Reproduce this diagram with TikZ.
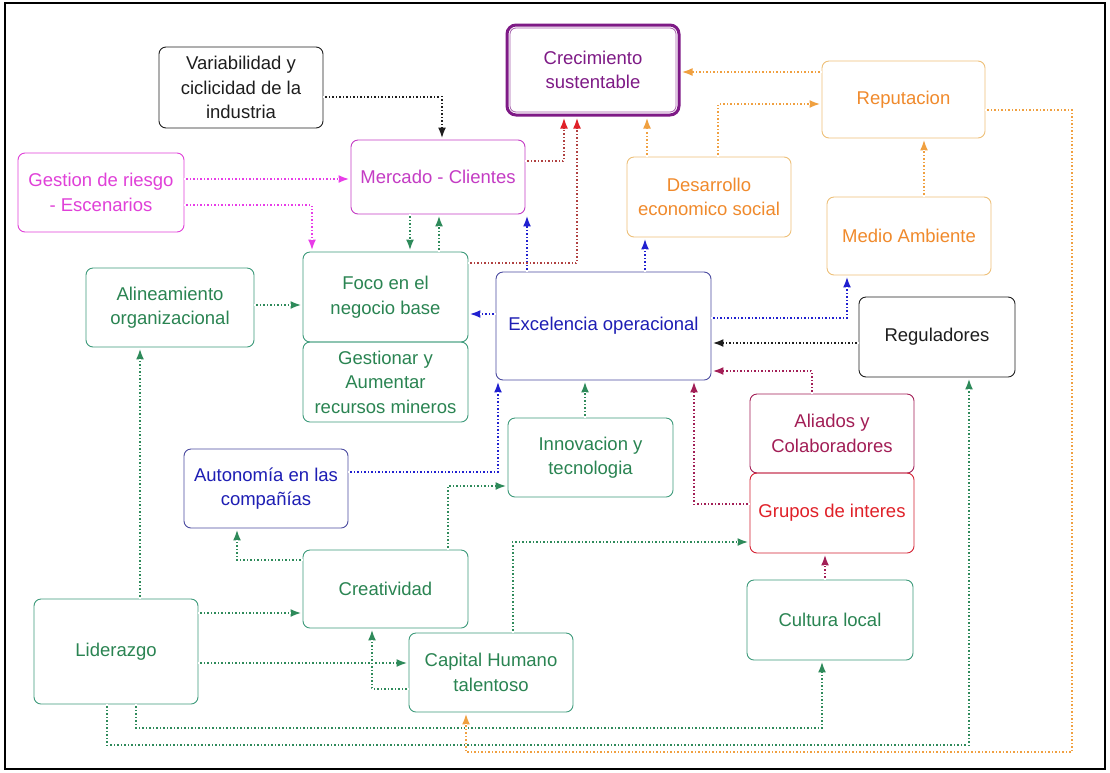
\documentclass[tikz,border=0pt]{standalone}
\usepackage{fontspec}
\setmainfont{Liberation Sans}
\usetikzlibrary{arrows.meta}

\definecolor{cgreen}{HTML}{2A8452}
\definecolor{cgreenbd}{HTML}{3C9A7A}
\definecolor{cblue}{HTML}{1E1EB4}
\definecolor{cbluebd}{HTML}{4A4AA0}
\definecolor{cmag}{HTML}{E040D8}
\definecolor{cmerc}{HTML}{C43CC4}
\definecolor{cpurple}{HTML}{7E1A86}
\definecolor{corange}{HTML}{F08A2C}
\definecolor{corangebd}{HTML}{EEC078}
\definecolor{cmaroon}{HTML}{A21E56}
\definecolor{cred}{HTML}{E02028}
\definecolor{credline}{HTML}{B04040}
\definecolor{cblack}{HTML}{1E1E1E}
\definecolor{cgreenln}{HTML}{2E8A5A}
\definecolor{cblueln}{HTML}{2020D0}
\definecolor{cmagln}{HTML}{E83CE8}
\definecolor{corangeln}{HTML}{F0A040}

\tikzset{
  box/.style={draw=#1, line width=0.9pt, rounded corners=7pt, inner sep=0pt,
    align=center, font=\fontsize{18.5}{24.5}\selectfont},
  conn/.style={draw=#1, line width=2.8pt, shorten >=1pt,
    -{Latex[length=11pt,width=8pt]},
    postaction={draw=white, line width=1.1pt, dash pattern=on 2pt off 1.5pt, -, shorten >=12pt}},
  redconn/.style={draw=credline, line width=2.8pt, shorten >=1pt,
    -{Latex[length=11pt,width=8pt,color=cred]},
    postaction={draw=white, line width=1.1pt, dash pattern=on 2pt off 1.5pt, -, shorten >=12pt}},
}

\begin{document}
\begin{tikzpicture}[x=1pt,y=-1pt]
  % canvas and outer frame
  \fill[white] (0,0) rectangle (1110,772);
  \useasboundingbox (0,0) rectangle (1110,772);
  \draw[black, line width=1.8pt] (5,3) rectangle (1105,769);

  % goal
  \node[box=cpurple, line width=3pt, rounded corners=9pt, text=cpurple,
        minimum width=172pt, minimum height=90pt] (crec) at (593,70) {Crecimiento\\sustentable};
  \draw[cpurple!70, line width=0.8pt, rounded corners=6pt]
        ([shift={(4.5,4.5)}]crec.north west) rectangle ([shift={(-4.5,-4.5)}]crec.south east);

  % boxes
  \node[box=cblack, text=cblack, minimum width=164pt, minimum height=81pt] (vari) at (241,87.5) {Variabilidad y\\ciclicidad de la\\industria};
  \node[box=cmag, text=cmag, minimum width=166pt, minimum height=79pt] (gest) at (101,192.5) {Gestion de riesgo\\- Escenarios};
  \node[box=cmerc, text=cmerc, minimum width=174pt, minimum height=74pt] (merc) at (438,177) {Mercado - Clientes};
  \node[box=corangebd, text=corange, minimum width=163pt, minimum height=77pt] (rep) at (903.5,99.5) {Reputacion};
  \node[box=corangebd, text=corange, minimum width=164pt, minimum height=80pt] (des) at (709,197) {Desarrollo\\economico social};
  \node[box=corangebd, text=corange, minimum width=164pt, minimum height=78pt] (med) at (909,236) {Medio Ambiente};
  \node[box=cgreenbd, text=cgreen, minimum width=168pt, minimum height=79pt] (alin) at (170,307.5) {Alineamiento\\organizacional};
  \node[box=cgreenbd, text=cgreen, minimum width=165pt, minimum height=90pt] (foco) at (385.5,297) {Foco en el\\negocio base};
  \node[box=cgreenbd, text=cgreen, minimum width=165pt, minimum height=80pt] (gesn) at (385.5,382) {Gestionar y\\Aumentar\\recursos mineros};
  \node[box=cbluebd, text=cblue, minimum width=215pt, minimum height=108pt] (exc) at (603.5,326) {Excelencia operacional};
  \node[box=cblack, text=cblack, minimum width=156pt, minimum height=80pt] (reg) at (937,337) {Reguladores};
  \node[box=cmaroon, text=cmaroon, minimum width=164pt, minimum height=79pt] (ali) at (832,433.5) {Aliados y\\Colaboradores};
  \node[box=cred!80!cmaroon, text=cred, minimum width=164pt, minimum height=80pt] (grp) at (832,513) {Grupos de interes};
  \node[box=cgreenbd, text=cgreen, minimum width=165pt, minimum height=79pt] (inn) at (590.5,457.5) {Innovacion y\\tecnologia};
  \node[box=cbluebd, text=cblue, minimum width=164pt, minimum height=79pt] (aut) at (266,488.5) {Autonomía en las\\compañías};
  \node[box=cgreenbd, text=cgreen, minimum width=165pt, minimum height=78pt] (cre) at (385.5,589) {Creatividad};
  \node[box=cgreenbd, text=cgreen, minimum width=164pt, minimum height=105pt] (lid) at (116,651.5) {Liderazgo};
  \node[box=cgreenbd, text=cgreen, minimum width=164pt, minimum height=79pt] (cap) at (491,672.5) {Capital Humano\\talentoso};
  \node[box=cgreenbd, text=cgreen, minimum width=166pt, minimum height=80pt] (cul) at (830,620) {Cultura local};

  % connectors, upper part
  \draw[conn=cblack] (vari.east |- 0,97) -| (442,0 |- merc.north);
  \draw[conn=cmagln] (gest.east |- 0,179) -- (merc.west |- 0,179);
  \draw[conn=cmagln] (gest.east |- 0,205) -| (312,0 |- foco.north);
  \draw[conn=cgreenln] (410,0 |- merc.south) -- (410,0 |- foco.north);
  \draw[conn=cgreenln] (439,0 |- foco.north) -- (439,0 |- merc.south);
  \draw[conn=cblueln] (527,0 |- exc.north) -- (527,0 |- merc.south);
  \draw[redconn] (merc.east |- 0,161) -| (564,0 |- crec.south);
  \draw[redconn] (foco.east |- 0,263) -| (577,0 |- crec.south);
  \draw[conn=corangeln] (647,0 |- des.north) -- (647,0 |- crec.south);
  \draw[conn=corangeln] (718,0 |- des.north) |- (rep.west |- 0,104);
  \draw[conn=corangeln] (rep.west |- 0,72) -- (crec.east |- 0,72);
  \draw[conn=corangeln] (924,0 |- med.north) -- (924,0 |- rep.south);
  \draw[conn=cblueln] (645,0 |- exc.north) -- (645,0 |- des.south);
  \draw[conn=cblueln] (exc.east |- 0,318) -| (847,0 |- med.south);
  \draw[conn=cblack] (reg.west |- 0,343) -- (exc.east |- 0,343);
  \draw[conn=cmaroon] (812,0 |- ali.north) |- (exc.east |- 0,371);
  \draw[conn=cmaroon] (grp.west |- 0,504) -| (694,0 |- exc.south);
  \draw[conn=cgreenln] (585,0 |- inn.north) -- (585,0 |- exc.south);
  \draw[conn=cblueln] (aut.east |- 0,472) -| (498,0 |- exc.south);
  \draw[conn=cblueln] (exc.west |- 0,314) -- (foco.east |- 0,314);
  \draw[conn=cgreenln] (alin.east |- 0,305) -- (foco.west |- 0,305);

  % connectors, lower part
  \draw[conn=cgreenln] (140,0 |- lid.north) -- (140,0 |- alin.south);
  \draw[conn=cgreenln] (cre.west |- 0,560) -| (237,0 |- aut.south);
  \draw[conn=cgreenln] (448,0 |- cre.north) |- (inn.west |- 0,486);
  \draw[conn=cgreenln] (lid.east |- 0,613) -- (cre.west |- 0,613);
  \draw[conn=cgreenln] (lid.east |- 0,663) -- (cap.west |- 0,663);
  \draw[conn=cgreenln] (cap.west |- 0,689) -| (372,0 |- cre.south);
  \draw[conn=cgreenln] (513,0 |- cap.north) |- (grp.west |- 0,542);
  \draw[conn=cgreenln] (136,0 |- lid.south) -- (136,728) -| (822,0 |- cul.south);
  \draw[conn=cgreenln] (107,0 |- lid.south) -- (107,745) -| (969,0 |- reg.south);
  \draw[conn=corangeln] (rep.east |- 0,110) -| (1072,752) -| (466,0 |- cap.south);
  \draw[conn=cmaroon] (825,0 |- cul.north) -- (825,0 |- grp.south);
\end{tikzpicture}
\end{document}
